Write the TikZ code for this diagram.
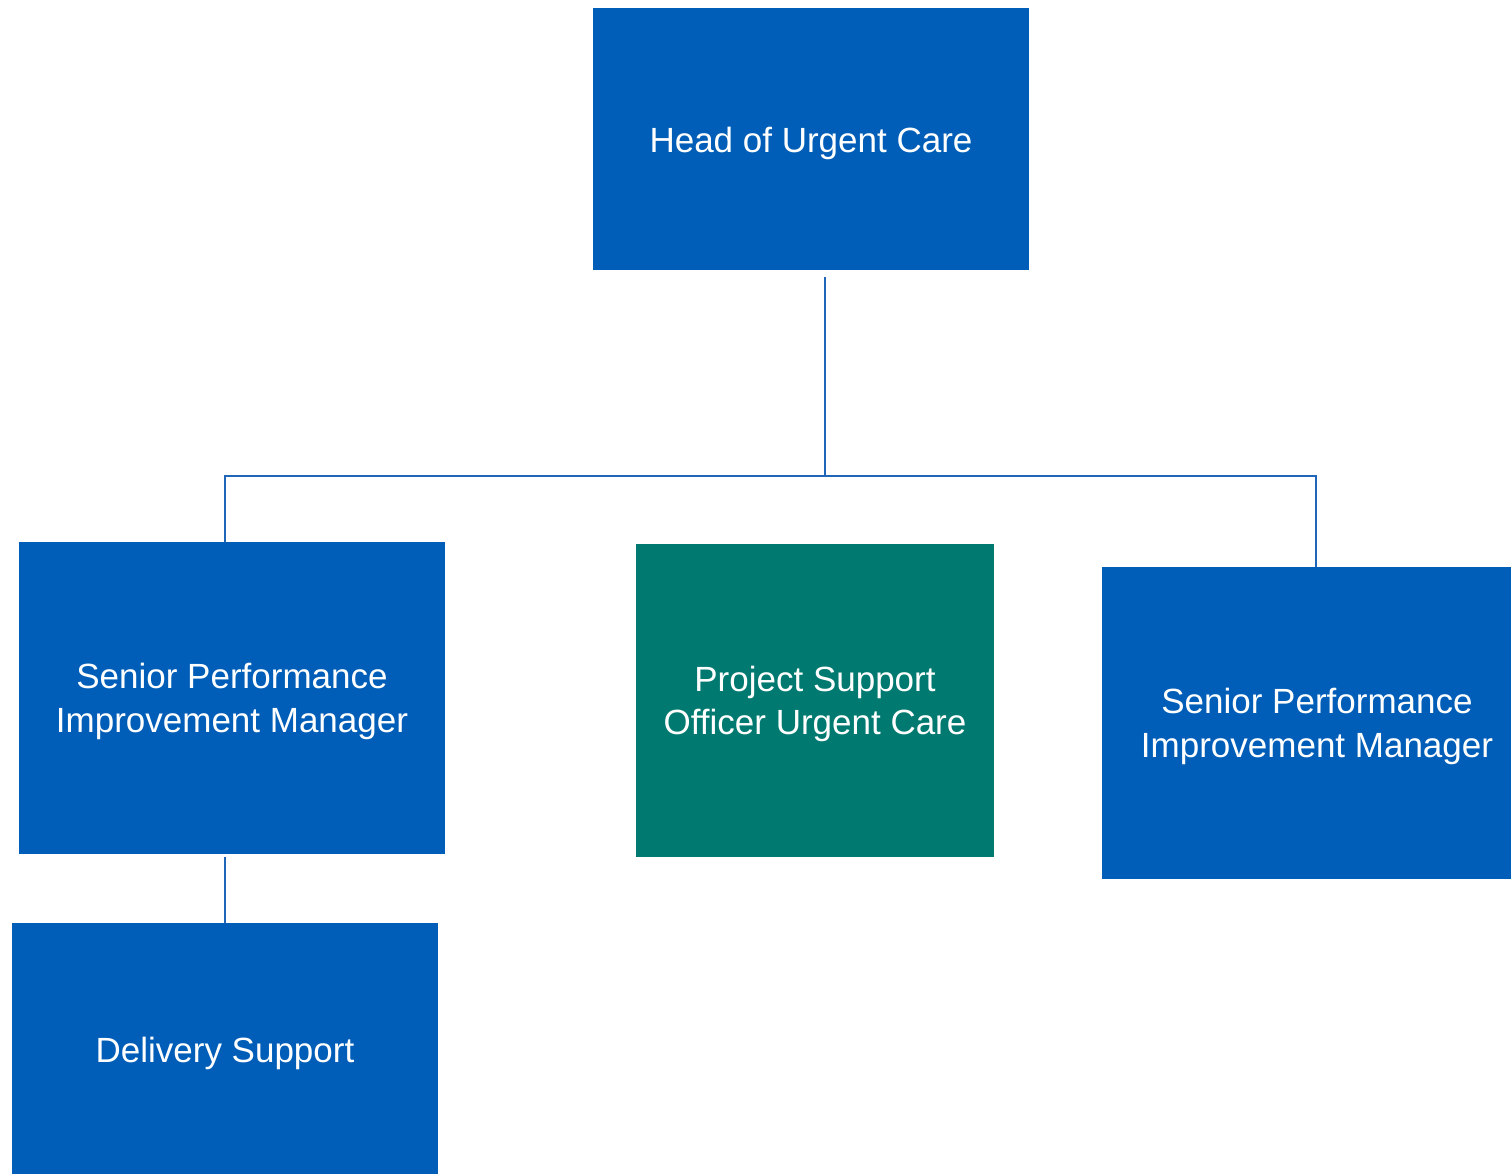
\documentclass[tikz,border=0pt]{standalone}
\usepackage{fontspec}
\setmainfont{Liberation Sans}
\definecolor{nhsblue}{HTML}{005EB8}
\definecolor{nhsteal}{HTML}{007A70}
\definecolor{linkblue}{HTML}{2066B8}
\begin{document}
\begin{tikzpicture}[x=1pt,y=-1pt,
  orgbox/.style={rectangle,inner sep=0pt,outer sep=0pt,draw=none,fill=nhsblue},
  tealbox/.style={orgbox,fill=nhsteal},
  boxtext/.style={anchor=base,inner sep=0pt,text=white,font=\fontsize{35}{44}\selectfont},
  conn/.style={draw=linkblue,line width=1.5pt}]
\useasboundingbox (0,0) rectangle (1511,1173);
\clip (0,0) rectangle (1511,1173);
% boxes
\node[orgbox,minimum width=436pt,minimum height=262pt] (head) at (811,139) {};
\node[orgbox,minimum width=426pt,minimum height=312pt] (spl) at (232,698) {};
\node[tealbox,minimum width=358pt,minimum height=313pt] (pso) at (815,700.5) {};
\node[orgbox,minimum width=430pt,minimum height=312pt] (spr) at (1317,723) {};
\node[orgbox,minimum width=426pt,minimum height=262pt] (del) at (225,1054) {};
% texts
\node[boxtext] (headt) at (811,152) {Head of Urgent Care};
\node[boxtext] (splt1) at (232,688) {Senior Performance};
\node[boxtext] (splt2) at (232,732) {Improvement Manager};
\node[boxtext] (psot1) at (815,691) {Project Support};
\node[boxtext] (psot2) at (815,734) {Officer Urgent Care};
\node[boxtext] (sprt1) at (1317,713) {Senior Performance};
\node[boxtext] (sprt2) at (1317,757) {Improvement Manager};
\node[boxtext] (delt) at (225,1062) {Delivery Support};
% connectors
\coordinate (bus) at (825,476);
\draw[conn] ([xshift=14pt,yshift=-7pt]head.south) -- (bus);
\draw[conn] ([xshift=-7pt]spl.north) |- (bus) -| ([xshift=-1pt]spr.north);
\draw[conn] ([xshift=-7pt,yshift=-3pt]spl.south) -- (del.north);
\end{tikzpicture}
\end{document}
